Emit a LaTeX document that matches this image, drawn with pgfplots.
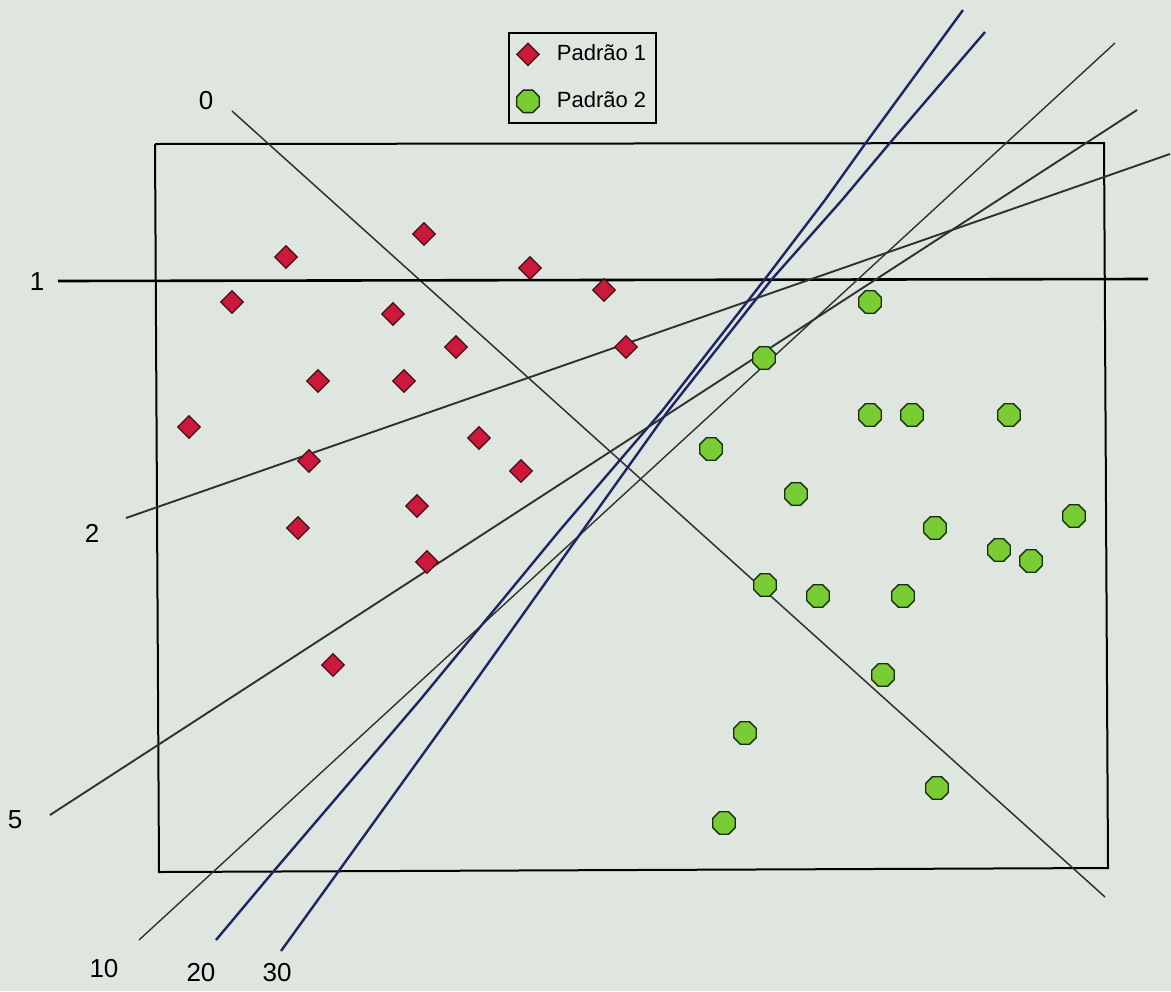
\documentclass[border=0pt]{standalone}
\usepackage{fontspec}
\setmainfont{Liberation Sans}
\usepackage{pgfplots}
\pgfplotsset{compat=1.18}
\definecolor{bg}{RGB}{222,230,223}
\definecolor{redfill}{RGB}{204,24,58}
\definecolor{rededge}{RGB}{70,15,20}
\definecolor{greenfill}{RGB}{122,204,52}
\definecolor{greenedge}{RGB}{25,45,15}
\definecolor{navy}{RGB}{28,38,100}
\definecolor{linegray}{RGB}{50,50,45}

\pgfdeclareplotmark{octagon}{%
  \pgfpathmoveto{\pgfpointpolar{22.5}{\pgfplotmarksize}}%
  \pgfpathlineto{\pgfpointpolar{67.5}{\pgfplotmarksize}}%
  \pgfpathlineto{\pgfpointpolar{112.5}{\pgfplotmarksize}}%
  \pgfpathlineto{\pgfpointpolar{157.5}{\pgfplotmarksize}}%
  \pgfpathlineto{\pgfpointpolar{202.5}{\pgfplotmarksize}}%
  \pgfpathlineto{\pgfpointpolar{247.5}{\pgfplotmarksize}}%
  \pgfpathlineto{\pgfpointpolar{292.5}{\pgfplotmarksize}}%
  \pgfpathlineto{\pgfpointpolar{337.5}{\pgfplotmarksize}}%
  \pgfpathclose
  \pgfusepathqfillstroke
}
\pgfdeclareplotmark{rdiamond}{%
  \pgfpathmoveto{\pgfqpoint{0pt}{\pgfplotmarksize}}%
  \pgfpathlineto{\pgfqpoint{\pgfplotmarksize}{0pt}}%
  \pgfpathlineto{\pgfqpoint{0pt}{-\pgfplotmarksize}}%
  \pgfpathlineto{\pgfqpoint{-\pgfplotmarksize}{0pt}}%
  \pgfpathclose
  \pgfusepathqfillstroke
}

\pgfplotsset{
  padrao1/.style={only marks, mark=rdiamond, mark size=5.6pt,
    mark options={draw=rededge, fill=redfill, line width=0.6pt}},
  padrao2/.style={only marks, mark=octagon, mark size=6.1pt,
    mark options={draw=greenedge, fill=greenfill, line width=0.7pt}},
}

\begin{document}
\begin{tikzpicture}
\begin{axis}[
  hide axis, scale only axis,
  width=585.5pt, height=495.5pt,
  xmin=0, xmax=1171, ymin=0, ymax=991,
  y dir=reverse, clip=false,
  legend style={at={(0.4338,0.9677)}, anchor=north west,
    draw=black, line width=0.9pt, fill=bg,
    font=\fontsize{11}{13}\selectfont,
    inner xsep=3pt, inner ysep=4pt, row sep=10pt},
  legend cell align=left,
  legend image code/.code={%
    \draw[#1] plot coordinates {(0pt,0pt)};
    \path (-6.1pt,-6pt) (12pt,6pt);},
]
% background (scanned paper)
\addplot[draw=none, fill=bg, forget plot] coordinates {(0,0) (1171,0) (1171,991) (0,991)};

% legend entries
\addlegendimage{padrao1}
\addlegendentry{Padrão 1}
\addlegendimage{padrao2}
\addlegendentry{Padrão 2}

% plot frame
\addplot[black, line width=1pt, forget plot] coordinates {(155,144) (1104,143) (1108,868) (159,872) (155,144)};

% Padrao 2 points
\addplot[padrao2, forget plot] coordinates {
(870,302) (764,358) (870,415) (912,415) (1009,415) (711,449) (796,494)
(1074,516) (935,528) (999,550) (1031,561) (765,585) (818,596) (903,596)
(883,675) (745,733) (937,788) (724,823)};

% separating lines
\addplot[linegray, line width=0.75pt, forget plot] coordinates {(232,111) (1105,897)};         % 0
\addplot[black, line width=1.3pt, forget plot] coordinates {(58,281) (1148,279)};              % 1
\addplot[linegray, line width=0.95pt, forget plot] coordinates {(126,518) (1170,154)};         % 2
\addplot[linegray, line width=0.95pt, forget plot] coordinates {(50,815) (1137,110)};          % 5
\addplot[linegray, line width=0.7pt, forget plot] coordinates {(139,940) (1115,43)};           % 10
\addplot[navy, line width=1.2pt, forget plot] coordinates {
(216,940) (273,872) (420,700) (560,530) (662,411) (765,279) (825,200) (865,144) (963,10)};     % 20
\addplot[navy, line width=1.2pt, forget plot] coordinates {
(281,951) (338,872) (462,700) (583,530) (668,411) (772,279) (842,200) (889,144) (985,32)};     % 30

% Padrao 1 points
\addplot[padrao1, forget plot] coordinates {
(424,234) (286,257) (530,268) (232,302) (604,290) (393,314) (456,347)
(626,347) (318,381) (404,381) (189,427) (479,438) (309,461) (521,471)
(417,506) (298,528) (427,562) (333,665)};

% line labels
\begin{scope}[every node/.style={font=\fontsize{13}{15}\selectfont, inner sep=0pt}]
\node at (axis cs:206,101) {0};
\node at (axis cs:37,282) {1};
\node at (axis cs:92,533) {2};
\node at (axis cs:15,820) {5};
\node at (axis cs:104,969) {10};
\node at (axis cs:201,973) {20};
\node at (axis cs:277,973) {30};
\end{scope}
\end{axis}
\end{tikzpicture}
\end{document}
